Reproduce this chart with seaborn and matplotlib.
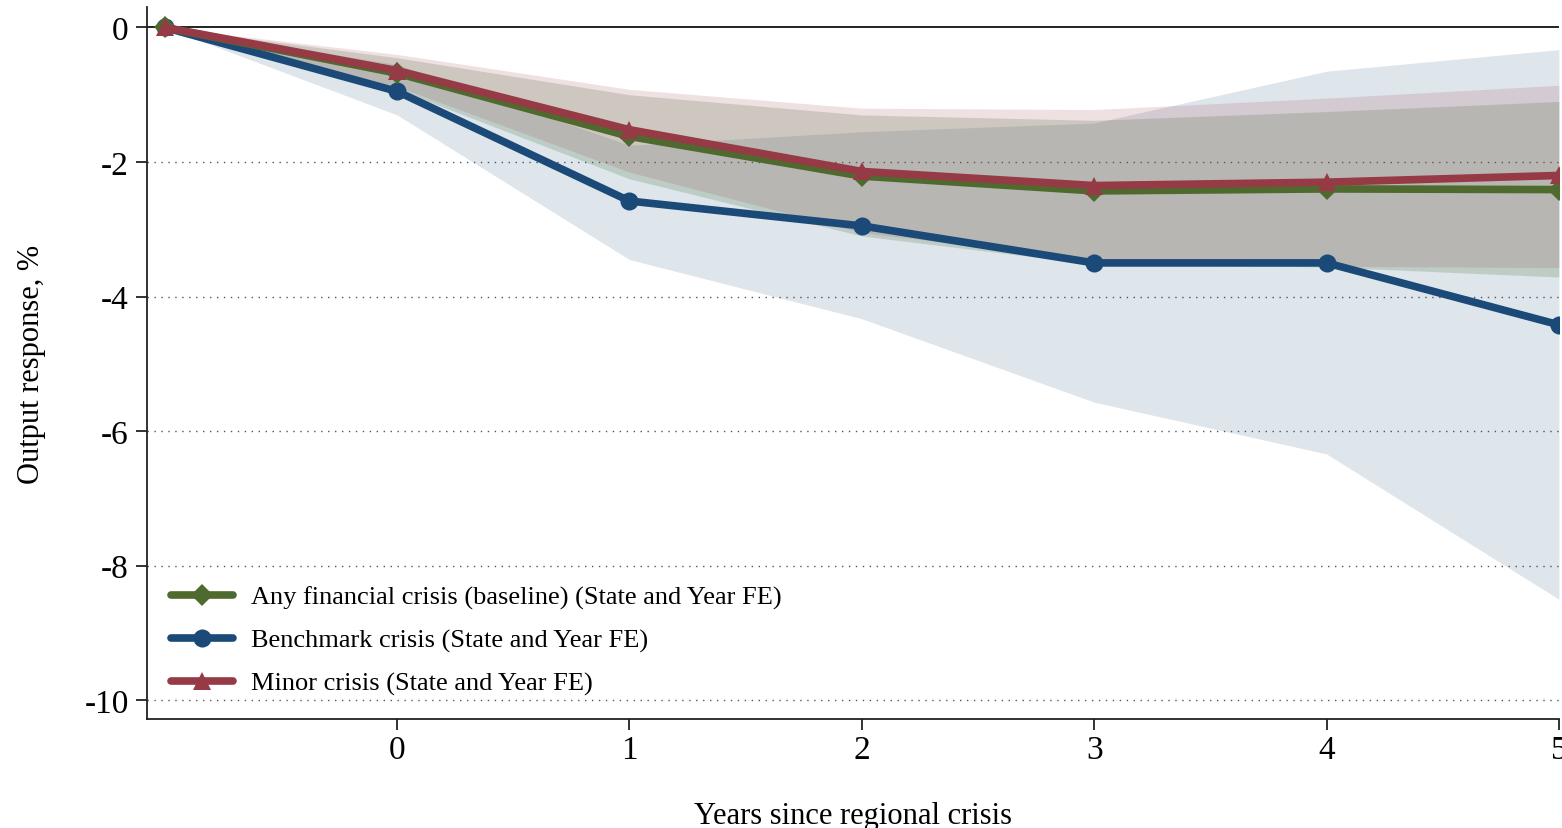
import numpy as np
import pandas as pd
import matplotlib
matplotlib.use("Agg")
import matplotlib.pyplot as plt
import seaborn as sns
from matplotlib.lines import Line2D

years = [-1, 0, 1, 2, 3, 4, 5]
series_names = ["Any financial crisis (baseline) (State and Year FE)",
                "Benchmark crisis (State and Year FE)",
                "Minor crisis (State and Year FE)"]

any_est = [0.0, -0.68, -1.62, -2.21, -2.43, -2.40, -2.41]
any_lo = [0.0, -0.92, -2.25, -3.10, -3.52, -3.56, -3.71]
any_hi = [0.0, -0.45, -1.00, -1.30, -1.38, -1.25, -1.10]

bench_est = [0.0, -0.95, -2.58, -2.95, -3.50, -3.50, -4.42]
bench_lo = [0.0, -1.30, -3.45, -4.33, -5.57, -6.34, -8.50]
bench_hi = [0.0, -0.55, -1.75, -1.55, -1.42, -0.65, -0.33]

minor_est = [0.0, -0.64, -1.52, -2.14, -2.35, -2.30, -2.20]
minor_lo = [0.0, -0.88, -2.15, -3.05, -3.45, -3.55, -3.57]
minor_hi = [0.0, -0.40, -0.92, -1.20, -1.22, -1.05, -0.86]

yticks = [0, -2, -4, -6, -8, -10]
xticks = [0, 1, 2, 3, 4, 5]

colors = {"any": "#4f6a2e", "bench": "#1b4a78", "minor": "#963a46"}
band_colors = {"any": "#4c7c46", "bench": "#1b4a78", "minor": "#a04050"}

sns.set_theme(style="white")
plt.rcParams["font.family"] = ["Liberation Serif", "DejaVu Serif"]
plt.rcParams["text.color"] = "black"
plt.rcParams["axes.labelcolor"] = "black"
plt.rcParams["xtick.color"] = "black"
plt.rcParams["ytick.color"] = "black"

fig = plt.figure(figsize=(15.62, 8.29), dpi=100)
ax = fig.add_axes([0.094, 0.1315, 0.904, 0.8585])

# confidence bands
ax.fill_between(years, bench_lo, bench_hi, color=band_colors["bench"], alpha=0.14, lw=0, zorder=1)
ax.fill_between(years, any_lo, any_hi, color=band_colors["any"], alpha=0.22, lw=0, zorder=1)
ax.fill_between(years, minor_lo, minor_hi, color=band_colors["minor"], alpha=0.16, lw=0, zorder=1)

df = pd.DataFrame({
    "year": years * 3,
    "est": bench_est + any_est + minor_est,
    "series": ["bench"] * 7 + ["any"] * 7 + ["minor"] * 7,
})

markers = {"any": "D", "bench": "o", "minor": "^"}
msizes = {"any": 11, "bench": 13, "minor": 13}
for key in ["bench", "any", "minor"]:
    sub = df[df["series"] == key]
    sns.lineplot(data=sub, x="year", y="est", ax=ax, color=colors[key], lw=5.5,
                 marker=markers[key], markersize=msizes[key], markeredgewidth=0,
                 legend=False, zorder=3)

ax.axhline(0, color="#111111", lw=1.3, zorder=2)
for yv in yticks[1:]:
    ax.axhline(yv, color="#555555", lw=1.0, ls=(0, (1, 4)), zorder=0.5)

ax.set_xlim(-1.077, 5.0)
ax.set_ylim(-10.28, 0.30)
ax.set_xticks(xticks)
ax.set_yticks(yticks)
ax.set_xticklabels([str(v) for v in xticks])
ax.set_yticklabels([str(v) for v in yticks])
ax.tick_params(axis="both", which="both", direction="out", length=8, width=1.3,
               color="#222222", labelsize=24, bottom=True, left=True)
ax.tick_params(axis="y", pad=5)
ax.tick_params(axis="x", pad=3)
for s in ["top", "right"]:
    ax.spines[s].set_visible(False)
for s in ["left", "bottom"]:
    ax.spines[s].set_color("#222222")
    ax.spines[s].set_linewidth(1.3)

ax.set_xlabel("Years since regional crisis", fontsize=22, labelpad=26)
ax.set_ylabel("Output response, %", fontsize=22, labelpad=28)
ax.grid(False)

handles = [Line2D([], [], color=colors[k], lw=5.5, marker=markers[k], markersize=msizes[k],
                  markeredgewidth=0) for k in ["any", "bench", "minor"]]
leg = ax.legend(handles, series_names, loc="lower left", bbox_to_anchor=(0.0, 0.0),
                frameon=False, fontsize=19, handlelength=2.35, handletextpad=0.68,
                labelspacing=0.72, borderaxespad=0.5)
leg.set_zorder(5)

fig.savefig("out.png", dpi=100)
